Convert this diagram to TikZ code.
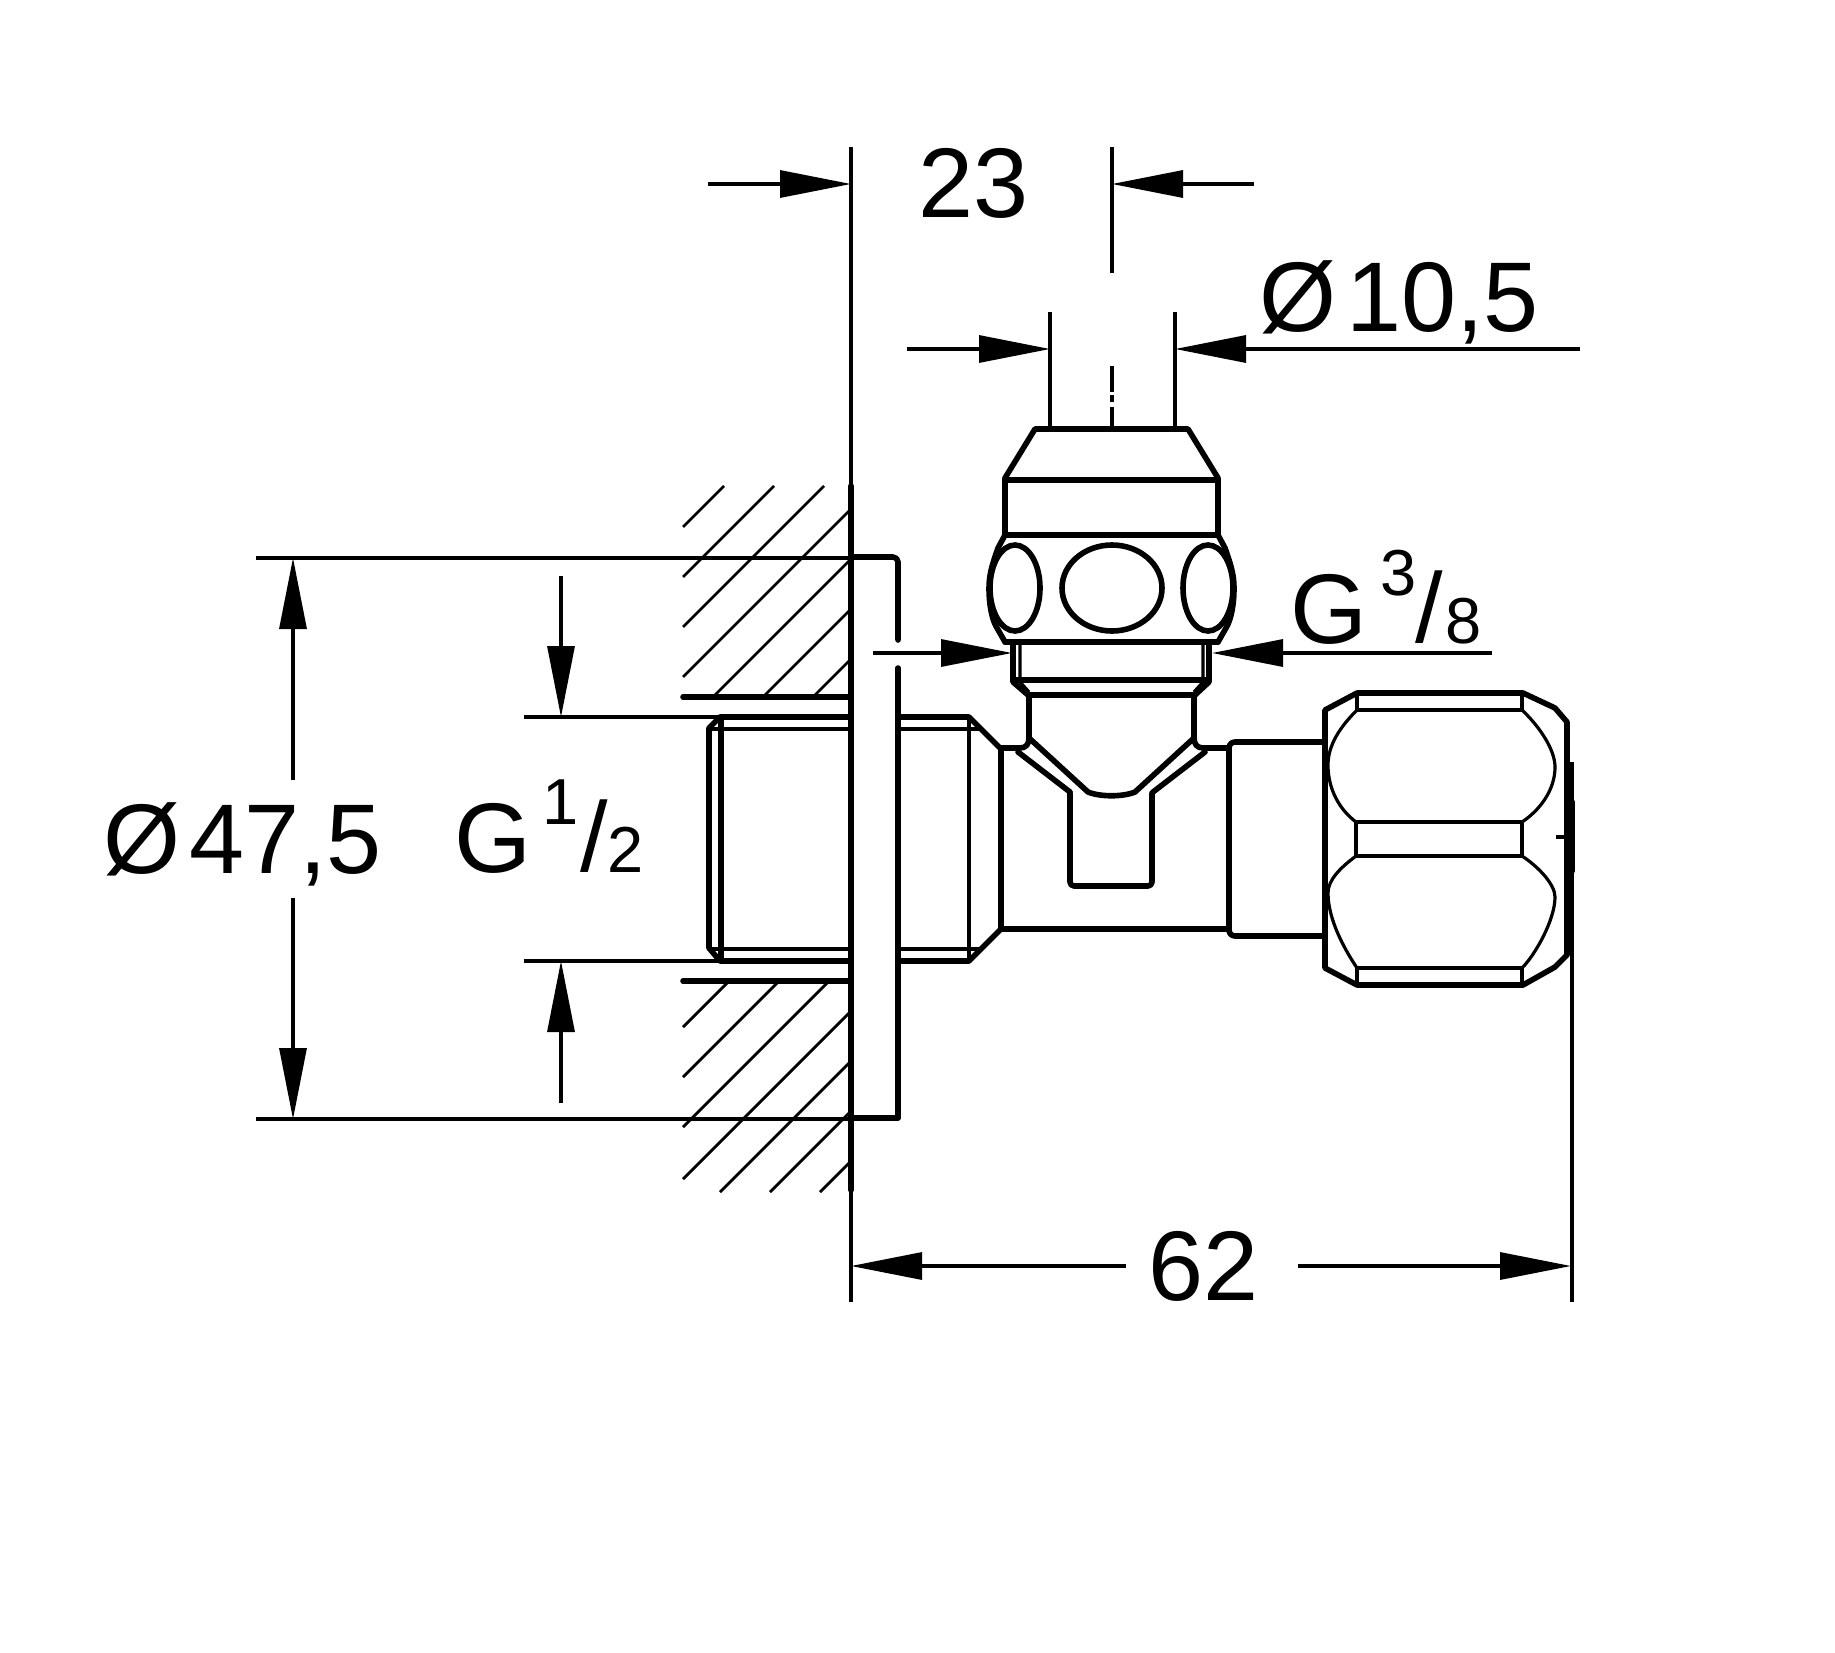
\documentclass[tikz,border=0pt]{standalone}
\usepackage{fontspec}
\setmainfont{Liberation Sans}
\usetikzlibrary{arrows.meta}
\tikzset{
  thickline/.style={black,line width=5.6pt,line cap=round,line join=round},
  thinline/.style={black,line width=3.2pt},
  hatchline/.style={black,line width=2.8pt},
  dimarrow/.style={black,line width=3.2pt,-{Triangle[length=71pt,width=27pt,sep=0pt]}},
  bigtext/.style={font=\fontsize{99}{100}\selectfont,anchor=base west},
  smalltext/.style={font=\fontsize{65}{66}\selectfont,anchor=base west}
}
\begin{document}
\begin{tikzpicture}[x=1pt,y=-1pt]
\tikzstyle{every node}+=[inner sep=0pt]
\useasboundingbox (0,0) rectangle (1835,1653);
\fill [white] (0,0) rectangle (1835,1653);
\draw [hatchline] (683,527) -- (724,486);
\draw [hatchline] (683,577) -- (774,486);
\draw [hatchline] (683,627) -- (824,486);
\draw [hatchline] (683,677) -- (851,509);
\draw [hatchline] (713,697) -- (851,559);
\draw [hatchline] (763,697) -- (851,609);
\draw [hatchline] (813,697) -- (851,659);
\draw [hatchline] (683,1027) -- (729,981);
\draw [hatchline] (683,1077) -- (779,981);
\draw [hatchline] (683,1127) -- (829,981);
\draw [hatchline] (683,1179) -- (851,1011);
\draw [hatchline] (720,1192) -- (851,1061);
\draw [hatchline] (770,1192) -- (851,1111);
\draw [hatchline] (820,1192) -- (851,1161);
\draw [thickline] (683,697) -- (851,697);
\draw [thickline] (683,981) -- (851,981);
\draw [thinline] (851,147) -- (851,1302);
\draw [thickline] (851,486) -- (851,1190);
\draw [thickline, rounded corners=5pt] (851,557) -- (898,557) -- (898,640);
\draw [thickline] (898,668) -- (898,1118) -- (851,1118);
\draw [thickline] (851,717) -- (720,717) -- (709,728) -- (709,948) -- (720,961) -- (851,961);
\draw [thickline] (721,717) -- (721,961);
\draw [thinline] (709,729) -- (851,729);
\draw [thinline] (709,949) -- (851,949);
\draw [thickline] (898,717) -- (969,717) -- (1001,749) -- (1001,929) -- (969,961) -- (898,961);
\draw [thinline] (898,729) -- (981,729);
\draw [thinline] (898,949) -- (981,949);
\draw [thinline] (969,717) -- (969,961);
\draw [thickline] (1001,748) -- (1020,748) .. controls (1026,748) and (1029,744) .. (1029,738);
\draw [thickline] (1227,748) -- (1203,748) .. controls (1197,748) and (1194,744) .. (1194,738);
\draw [thickline] (1001,929) -- (1229,929);
\draw [thickline, rounded corners=6pt] (1325,742) -- (1229,742) -- (1229,936) -- (1325,936);
\draw [thickline, rounded corners=4pt] (1070,793) -- (1070,886) -- (1152,886) -- (1152,793);
\draw [thickline] (1005,535) -- (1005,478) -- (1035,429) -- (1188,429) -- (1218,478) -- (1218,535);
\draw [thickline] (1005,480) -- (1218,480);
\draw [thickline] (1005,535) -- (1218,535);
\draw [thickline] (1005,535) -- (998,548) .. controls (992,565) and (989,575) .. (989,588) .. controls (989,605) and (992,620) .. (997,628) -- (1005,642);
\draw [thickline] (1218,535) -- (1225,548) .. controls (1231,565) and (1234,575) .. (1234,588) .. controls (1234,605) and (1231,620) .. (1226,628) -- (1218,642);
\draw [thickline] (1005,642) -- (1218,642);
\draw [thickline] (1015,588) ellipse (25 and 43);
\draw [thickline] (1112,588) ellipse (50 and 43);
\draw [thickline] (1208,588) ellipse (25 and 43);
\draw [thickline] (1013,642) -- (1013,682) -- (1028,695) -- (1195,695) -- (1209,682) -- (1209,642);
\draw [thickline] (1013,680) -- (1209,680);
\draw [thinline] (1020,642) -- (1020,682) -- (1029,692);
\draw [thinline] (1203,642) -- (1203,682) -- (1194,692);
\draw [thickline] (1029,695) -- (1029,738) -- (1088,792) .. controls (1100,797) and (1123,797) .. (1135,792) -- (1194,738) -- (1194,695);
\draw [thickline] (1018,752) -- (1070,792);
\draw [thickline] (1205,752) -- (1153,792);
\draw [thickline] (1325,710) -- (1357,693) -- (1523,693) -- (1555,708) -- (1567,722) -- (1567,955) -- (1555,967) -- (1523,985) -- (1357,985) -- (1325,968) -- cycle;
\draw [thinline] (1357,693) -- (1357,710) -- (1522,710) -- (1522,693);
\draw [thinline] (1356,822) rectangle (1522,856);
\draw [thinline] (1357,985) -- (1357,968) -- (1522,968) -- (1522,985);
\draw [thinline] (1357,710) .. controls (1340,727) and (1328,745) .. (1328,765) .. controls (1328,790) and (1340,810) .. (1356,822);
\draw [thinline] (1522,710) .. controls (1540,727) and (1555,750) .. (1555,767) .. controls (1555,790) and (1540,810) .. (1522,822);
\draw [thinline] (1356,856) .. controls (1340,868) and (1328,880) .. (1328,893) .. controls (1328,920) and (1345,950) .. (1357,968);
\draw [thinline] (1522,856) .. controls (1540,868) and (1555,885) .. (1555,897) .. controls (1555,920) and (1535,955) .. (1522,968);
\draw [thinline] (1572,762) -- (1572,1302);
\draw [thickline] (1572,802) -- (1572,871);
\draw [thinline] (1556,837) -- (1566,837);
\draw [thinline] (1112,147) -- (1112,273);
\draw [thinline] (1112,366) -- (1112,392);
\draw [thinline] (1112,395) -- (1112,402);
\draw [thinline] (1112,407) -- (1112,429);
\draw [thinline] (1050,312) -- (1050,429);
\draw [thinline] (1175,312) -- (1175,429);
\draw [thinline] (256,558) -- (851,558);
\draw [thinline] (256,1119) -- (851,1119);
\draw [thinline] (524,717) -- (720,717);
\draw [thinline] (524,961) -- (720,961);
\draw [dimarrow] (708,184) -- (851,184);
\draw [dimarrow] (1254,184) -- (1112,184);
\draw [dimarrow] (907,349) -- (1050,349);
\draw [dimarrow] (1580,349) -- (1175,349);
\draw [dimarrow] (873,653) -- (1012,653);
\draw [dimarrow] (1492,653) -- (1212,653);
\draw [dimarrow] (293,780) -- (293,558);
\draw [dimarrow] (293,898) -- (293,1119);
\draw [dimarrow] (561,576) -- (561,717);
\draw [dimarrow] (561,1103) -- (561,961);
\draw [dimarrow] (1126,1266) -- (851,1266);
\draw [dimarrow] (1298,1266) -- (1571,1266);
\node [bigtext] (widthtop) at (918,218) {23};
\node [bigtext] (diatop) at (1259,331) {Ø\kern10pt 10,5};
\node [bigtext] (diaplate) at (103,873) {Ø\kern9pt 47,5};
\node [bigtext] (depth) at (1148,1300) {62};
\node [bigtext] (gleft) at (454,872) {G};
\node [smalltext] (gleftnum) at (542,824) {1};
\node [bigtext] (gleftbar) at (580,871) {/};
\node [smalltext] (gleftden) at (607,872) {2};
\node [bigtext] (gright) at (1290,643) {G};
\node [smalltext] (grightnum) at (1380,595) {3};
\node [bigtext] (grightbar) at (1415,642) {/};
\node [smalltext] (grightden) at (1445,643) {8};
\end{tikzpicture}
\end{document}
